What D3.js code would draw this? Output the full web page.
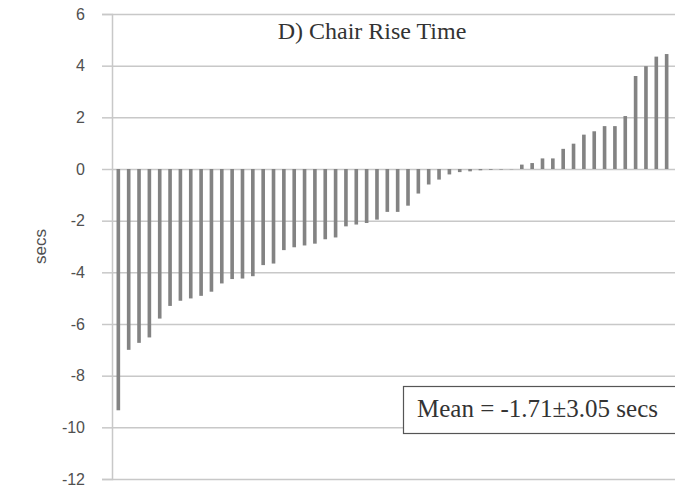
<!DOCTYPE html>
<html>
<head>
<meta charset="utf-8">
<script src="https://cdn.jsdelivr.net/npm/d3@7"></script>
<style>
  body { margin: 0; background: #fff; }
  svg { display: block; }
</style>
</head>
<body>
<div id="chart"></div>
<script>
const w = 675
const h = 492

const title = "D) Chair Rise Time"
const yLabel = "secs"
const note = "Mean = -1.71±3.05 secs"

const yTicks = [6, 4, 2, 0, -2, -4, -6, -8, -10, -12]

// one bar per participant, sorted
const values = [
  -9.34, -7.0, -6.73, -6.52, -5.79, -5.3, -5.1, -5.01, -4.91, -4.75,
  -4.43, -4.26, -4.24, -4.15, -3.72, -3.66, -3.14, -3.03, -2.96, -2.89,
  -2.72, -2.65, -2.22, -2.15, -2.09, -1.96, -1.66, -1.66, -1.42, -0.95,
  -0.6, -0.41, -0.21, -0.12, -0.09, -0.05, -0.03, -0.02, -0.01, 0.17,
  0.23, 0.41, 0.41, 0.78, 0.98, 1.33, 1.46, 1.66, 1.66, 2.05,
  3.6, 3.98, 4.35, 4.45
]
const participants = values.map((d, i) => i + 1)

const margin = { top: 14, bottom: 13, left: 112 }

const gridColor = "#c8c8c8"
const barColor = "#838383"
const textColor = "#505050"

const svg = d3.select('#chart').append('svg')
  .attr('width', w)
  .attr('height', h)

const y = d3.scaleLinear()
  .domain([-12, 6])
  .range([h - margin.bottom, margin.top])

const x = d3.scaleBand()
  .domain(participants)
  .range([109.8, 109.8 + participants.length * 10.47])
  .padding(0.65)

svg.append('g') // grid + ticks
  .attr('transform', `translate(${margin.left},0)`)
  .call(d3.axisLeft(y).tickValues(yTicks).tickSize(10).tickPadding(17)
    .tickFormat(d => String(d)))
  .call(g => g.select('.domain')
    .attr('stroke', gridColor)
    .attr('stroke-width', 1.5))
  .call(g => g.selectAll('.tick line')
    .attr('stroke', gridColor)
    .attr('stroke-width', 1.5))
  .call(g => g.selectAll('.tick').append('line')
    .attr('x1', 0)
    .attr('x2', w - margin.left)
    .attr('stroke', gridColor)
    .attr('stroke-width', 1.5))
  .call(g => g.selectAll('.tick text')
    .attr('fill', textColor)
    .style('font-family', "'Liberation Sans', Arial, sans-serif")
    .style('font-size', '16px'))

svg.append('g')
  .selectAll('rect')
  .data(values).enter()
  .append('rect')
    .attr('fill', barColor)
    .attr('x', (d, i) => x(participants[i]))
    .attr('width', x.bandwidth())
    .attr('y', d => y(Math.max(0, d)))
    .attr('height', d => Math.abs(y(d) - y(0)))

svg.append('text')
  .attr('text-anchor', 'middle')
  .attr('transform', `translate(46,${y(-3)}) rotate(-90)`)
  .attr('fill', textColor)
  .style('font-family', "'Liberation Sans', Arial, sans-serif")
  .style('font-size', '17px')
  .text(yLabel)

svg.append('text')
  .attr('x', 372)
  .attr('y', 39)
  .attr('text-anchor', 'middle')
  .attr('fill', '#333')
  .style('font-family', "'Liberation Serif', 'Times New Roman', serif")
  .style('font-size', '24px')
  .text(title)

svg.append('rect')
  .attr('x', 403.5)
  .attr('y', 386.5)
  .attr('width', 290)
  .attr('height', 47)
  .attr('fill', '#fff')
  .attr('stroke', '#555')
  .attr('stroke-width', 1.2)

svg.append('text')
  .attr('x', 417)
  .attr('y', 417)
  .attr('fill', '#333')
  .style('font-family', "'Liberation Serif', 'Times New Roman', serif")
  .style('font-size', '25px')
  .text(note)
</script>
</body>
</html>
